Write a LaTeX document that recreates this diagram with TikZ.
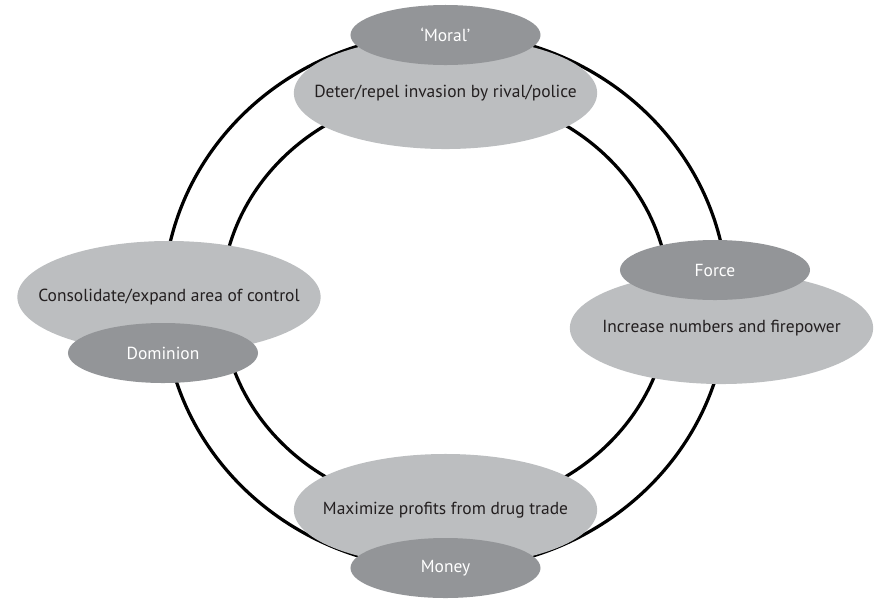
\documentclass[tikz,border=0pt]{standalone}
\usepackage{fontspec}
\setmainfont{PT Sans}
\usepackage{xcolor}
\usepackage{tikz}
\usetikzlibrary{shapes.geometric}

\definecolor{goalgray}{HTML}{BCBEC0}
\definecolor{drivegray}{HTML}{939598}
\definecolor{inkgray}{HTML}{231F20}

\begin{document}
\begin{tikzpicture}[
  x=0.025cm, y=-0.025cm,
  goal/.style={
    ellipse,
    fill=goalgray,
    minimum width=7.58cm,
    minimum height=2.8cm,
    inner xsep=-1.5cm,
    inner ysep=0pt,
    text=inkgray,
    font=\fontsize{12.4}{14}\selectfont
  },
  drive/.style={
    ellipse,
    fill=drivegray,
    minimum width=4.75cm,
    minimum height=1.5cm,
    inner sep=0pt,
    text=white,
    font=\fontsize{12.4}{14}\selectfont
  },
  ring/.style={
    line width=2.3pt,
    draw=black
  }
]
\useasboundingbox (0,0) rectangle (875,600);

% Rings behind everything
\draw[ring] (445.5,301) ellipse [x radius=7.05cm, y radius=6.7cm];
\draw[ring] (445.5,301) ellipse [x radius=5.6cm, y radius=5.2cm];

% Goals
\node[goal] (deter) at (445.5,93) {Deter/repel invasion by rival/police};
\node[goal] (consolidate) at (169,297) {Consolidate/expand area of control};
\node[goal] (increase) at (721.5,328) {Increase numbers and firepower};
\node[goal] (maximize) at (445.5,510) {Maximize profits from drug trade};

% Drives on top of the goals
\node[drive] (moral) at (445.5,35) {`Moral'};
\node[drive] (dominion) at (163,353) {Dominion};
\node[drive] (force) at (715,270) {Force};
\node[drive] (money) at (445.5,568) {Money};
\end{tikzpicture}
\end{document}
